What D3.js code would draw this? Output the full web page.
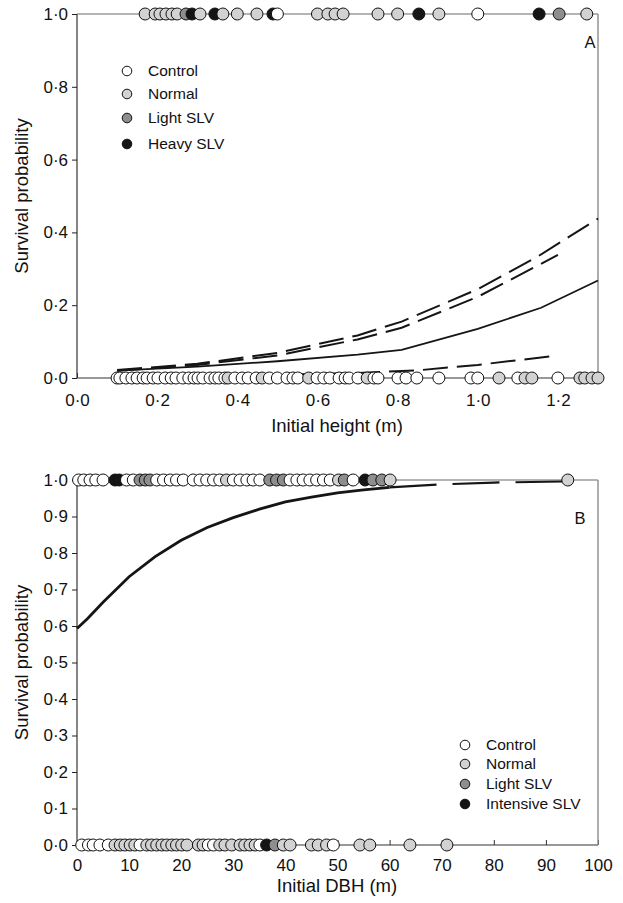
<!DOCTYPE html>
<html><head><meta charset="utf-8">
<script src="https://cdn.jsdelivr.net/npm/d3@7"></script>
<style>
html,body{margin:0;padding:0;background:#fff;}
svg{display:block;font-family:"Liberation Sans",Arial,Helvetica,sans-serif;}
</style></head><body>
<svg id="chart" width="623" height="903"></svg>
<script>
// ---------- Panel A: survival vs initial height ----------
const heightTicks = [0, 0.2, 0.4, 0.6, 0.8, 1.0, 1.2];
const probTicksA = [0, 0.2, 0.4, 0.6, 0.8, 1.0];
const legendA = ["Control", "Normal", "Light SLV", "Heavy SLV"];

// Individual trees that survived (plotted at 1·0)
const aliveHeightControl = [0.50, 1.00];
const aliveHeightNormal = [0.17, 0.195, 0.207, 0.222, 0.237, 0.25, 0.307, 0.364, 0.40, 0.449, 0.60, 0.626, 0.644, 0.664, 0.751, 0.80, 0.903, 1.272];
const aliveHeightLight = [0.272, 1.203];
const aliveHeightHeavy = [0.287, 0.344, 0.489, 0.853, 1.153];

// Individual trees that died (plotted at 0·0)
const deadHeightControl = [0.10, 0.107, 0.122, 0.137, 0.15, 0.165, 0.175, 0.19, 0.202, 0.22, 0.235, 0.247, 0.264, 0.279, 0.292, 0.302, 0.314, 0.332, 0.344, 0.354, 0.369, 0.394, 0.412, 0.427, 0.447, 0.48, 0.50, 0.524, 0.539, 0.551, 0.599, 0.616, 0.631, 0.654, 0.669, 0.679, 0.701, 0.741, 0.751, 0.801, 0.821, 0.848, 0.903, 0.983, 1.0, 1.10, 1.20];
const deadHeightNormal = [0.377, 0.462, 0.578, 0.724, 1.053, 1.118, 1.135, 1.255, 1.267, 1.285, 1.30];

// Fitted survival curves
const fitHeightDashUpperX = [0.10, 0.30, 0.50, 0.70, 0.81, 1.00, 1.15, 1.30];
const fitHeightDashUpperP = [0.022, 0.039, 0.069, 0.117, 0.155, 0.244, 0.334, 0.438];
const fitHeightDashMidX = [0.10, 0.30, 0.50, 0.70, 0.81, 1.00, 1.20];
const fitHeightDashMidP = [0.020, 0.036, 0.062, 0.106, 0.138, 0.223, 0.338];
const fitHeightSolidX = [0.10, 0.30, 0.50, 0.70, 0.81, 1.00, 1.158, 1.30];
const fitHeightSolidP = [0.020, 0.031, 0.046, 0.064, 0.077, 0.135, 0.193, 0.268];
const fitHeightDashLowX = [0.10, 0.30, 0.50, 0.70, 0.85, 1.00, 1.20];
const fitHeightDashLowP = [0.004, 0.006, 0.009, 0.014, 0.021, 0.036, 0.062];

// ---------- Panel B: survival vs initial DBH ----------
const dbhTicks = [0, 10, 20, 30, 40, 50, 60, 70, 80, 90, 100];
const probTicksB = [0, 0.1, 0.2, 0.3, 0.4, 0.5, 0.6, 0.7, 0.8, 0.9, 1.0];
const legendB = ["Control", "Normal", "Light SLV", "Intensive SLV"];

const aliveDbhControl = [0.3, 1.3, 2.5, 3.6, 5.0, 9.5, 10.8, 15.3, 16.6, 17.9, 19.1, 20.4, 22.3, 23.6, 24.9, 26.2, 27.4, 30.0, 31.3, 32.6, 33.8, 35.1, 40.9, 42.2, 43.4, 44.7, 46.0, 47.3, 48.6, 53.0];
const aliveDbhNormal = [28.7, 50.2, 60.1, 94.2];
const aliveDbhLight = [12.1, 13.1, 14.0, 37.0, 38.3, 39.6, 51.3, 56.8, 58.5];
const aliveDbhIntensive = [7.3, 8.1, 55.3];

const deadDbhControl = [0.9, 2.2, 3.1, 4.4, 6.0, 12.1, 25.2, 26.2, 35.1, 49.2];
const deadDbhNormal = [7.3, 8.3, 9.2, 10.2, 11.1, 13.4, 14.3, 15.3, 16.3, 17.2, 18.2, 19.1, 20.1, 21.1, 23.3, 24.2, 27.4, 28.4, 29.7, 31.3, 32.2, 33.2, 34.2, 39.6, 40.9, 45.0, 46.3, 47.9, 54.3, 56.2, 63.9, 71.0];
const deadDbhLight = [38.0];
const deadDbhIntensive = [36.4];

const fitDbhSolidX = [0, 2, 5, 10, 15, 20, 25, 30, 35, 40, 45, 50, 55, 60];
const fitDbhSolidP = [0.593, 0.62, 0.665, 0.735, 0.79, 0.835, 0.87, 0.897, 0.92, 0.94, 0.953, 0.965, 0.973, 0.98];
const fitDbhDashX = [60, 70, 80, 94];
const fitDbhDashP = [0.98, 0.988, 0.993, 0.996];

// ---------- drawing ----------
const fills = ["#ffffff", "#d2d2d2", "#8e8e8e", "#151515"];
const svg = d3.select("#chart");
const fmt = d => (d3.format(".1f")(d)).replace(".", "\u00b7");
const tickFont = 17, titleFont = 18.5, legendFont = 15.5;

function pointRows(groups, y) {
  // groups: array of [values, treatmentIndex]; returns points sorted left to right
  const pts = [];
  groups.forEach(([vals, k]) => vals.forEach(v => pts.push({x: v, y: y, k: k})));
  return pts.sort((a, b) => a.x - b.x);
}

function drawPanel(cfg) {
  const g = svg.append("g");
  const x = d3.scaleLinear().domain(cfg.xDomain).range([77, 598]);
  const y = d3.scaleLinear().domain([0, 1]).range(cfg.yRange);

  // left axis
  const ay = g.append("g").attr("transform", "translate(77,0)")
    .call(d3.axisLeft(y).tickValues(cfg.yTicks).tickSize(5).tickPadding(4).tickFormat(fmt));
  ay.select(".domain").remove();
  ay.selectAll("line").attr("stroke", "#222");
  ay.selectAll("text").attr("font-size", tickFont).attr("fill", "#111");
  g.append("line").attr("x1", 77).attr("x2", 77).attr("y1", y(1)).attr("y2", y(0)).attr("stroke", "#222").attr("stroke-width", 1.1);

  // bottom axis with inward ticks
  const ax = g.append("g").attr("transform", `translate(0,${y(0)})`)
    .call(d3.axisBottom(x).tickValues(cfg.xTicks).tickSizeInner(-5).tickSizeOuter(0).tickPadding(cfg.xPad).tickFormat(cfg.xFormat));
  ax.select(".domain").remove();
  ax.selectAll("line").attr("stroke", "#333");
  ax.selectAll("text").attr("font-size", tickFont).attr("fill", "#111");
  g.append("line").attr("x1", 77).attr("x2", 598).attr("y1", y(0)).attr("y2", y(0)).attr("stroke", "#333").attr("stroke-width", 1.1);

  // upper and right frame lines
  g.append("line").attr("x1", 77).attr("x2", 598).attr("y1", y(1)).attr("y2", y(1)).attr("stroke", "#6a6a6a").attr("stroke-width", 1.2);
  g.append("line").attr("x1", 598).attr("x2", 598).attr("y1", y(1)).attr("y2", y(0)).attr("stroke", "#8a8a8a").attr("stroke-width", 1.4);

  // fitted curves
  const line = d3.line().x(d => x(d[0])).y(d => y(d[1]));
  cfg.curves.forEach(c => {
    g.append("path").datum(c.xs.map((v, i) => [v, c.ps[i]]))
      .attr("d", line).attr("fill", "none").attr("stroke", "#151515")
      .attr("stroke-width", c.w).attr("stroke-dasharray", c.dash || null);
  });

  // tree observations
  g.append("g").selectAll("circle").data(cfg.points).join("circle")
    .attr("cx", d => x(d.x)).attr("cy", d => y(d.y)).attr("r", 6)
    .attr("fill", d => fills[d.k]).attr("stroke", "#111").attr("stroke-width", 1);

  // legend
  const lg = g.append("g");
  cfg.legend.forEach((name, i) => {
    const ly = cfg.legendY[i];
    lg.append("circle").attr("cx", cfg.legendX).attr("cy", ly).attr("r", 4.8)
      .attr("fill", fills[i]).attr("stroke", "#111").attr("stroke-width", 1);
    lg.append("text").attr("x", cfg.legendX + 21).attr("y", ly).attr("dy", "0.35em")
      .attr("font-size", legendFont).attr("fill", "#111").text(name);
  });

  // panel letter
  g.append("text").attr("x", cfg.letterX).attr("y", cfg.letterY).attr("dy", "0.35em")
    .attr("text-anchor", "middle").attr("font-size", 16.5).attr("fill", "#111").text(cfg.letter);

  // axis titles
  g.append("text").attr("x", 337).attr("y", cfg.xTitleY).attr("text-anchor", "middle")
    .attr("font-size", titleFont).attr("fill", "#111").text(cfg.xTitle);
  const my = (cfg.yRange[0] + cfg.yRange[1]) / 2;
  g.append("text").attr("transform", `translate(28,${my}) rotate(-90)`).attr("text-anchor", "middle")
    .attr("font-size", titleFont).attr("fill", "#111").text("Survival probability");
}

drawPanel({
  xDomain: [0, 1.3], yRange: [378, 14], yTicks: probTicksA,
  xTicks: heightTicks, xFormat: fmt, xPad: 16,
  curves: [
    {xs: fitHeightDashUpperX, ps: fitHeightDashUpperP, w: 2, dash: "25,9"},
    {xs: fitHeightDashMidX, ps: fitHeightDashMidP, w: 2, dash: "25,9"},
    {xs: fitHeightSolidX, ps: fitHeightSolidP, w: 1.8},
    {xs: fitHeightDashLowX, ps: fitHeightDashLowP, w: 2, dash: "25,9"}
  ],
  points: pointRows([[aliveHeightControl, 0], [aliveHeightNormal, 1], [aliveHeightLight, 2], [aliveHeightHeavy, 3]], 1)
    .concat(pointRows([[deadHeightControl, 0], [deadHeightNormal, 1]], 0)),
  legend: legendA, legendX: 127, legendY: [71, 94, 118, 144],
  letter: "A", letterX: 590, letterY: 42,
  xTitle: "Initial height (m)", xTitleY: 432
});

drawPanel({
  xDomain: [0, 100], yRange: [845, 480], yTicks: probTicksB,
  xTicks: dbhTicks, xFormat: d3.format("d"), xPad: 14,
  curves: [
    {xs: fitDbhSolidX, ps: fitDbhSolidP, w: 2.8},
    {xs: fitDbhDashX, ps: fitDbhDashP, w: 2.2, dash: "47,16"}
  ],
  points: pointRows([[aliveDbhControl, 0], [aliveDbhNormal, 1], [aliveDbhLight, 2], [aliveDbhIntensive, 3]], 1)
    .concat(pointRows([[deadDbhControl, 0], [deadDbhNormal, 1], [deadDbhLight, 2], [deadDbhIntensive, 3]], 0)),
  legend: legendB, legendX: 465, legendY: [745, 764, 784, 804],
  letter: "B", letterX: 580, letterY: 518,
  xTitle: "Initial DBH (m)", xTitleY: 892
});
</script>
</body></html>
